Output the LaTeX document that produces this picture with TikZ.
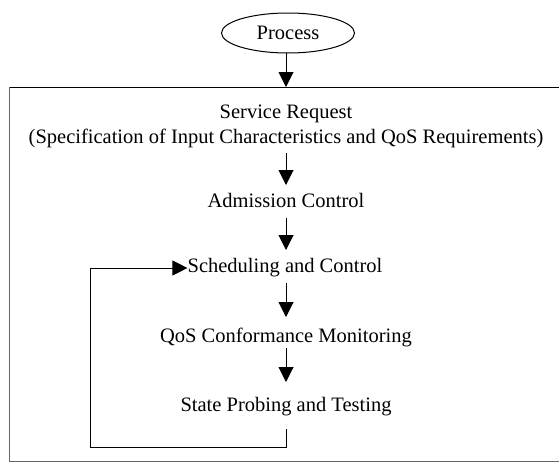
\documentclass[tikz,border=0pt]{standalone}
\usepackage{fontspec}
\setmainfont{Liberation Serif}
\usetikzlibrary{arrows.meta,shapes.geometric}
\begin{document}
\begin{tikzpicture}[x=1pt,y=-1pt,
  every node/.style={font=\fontsize{20.5}{24}\selectfont, inner sep=0pt},
  lbl/.style={anchor=center},
  conn/.style={line width=1pt, -{Triangle[length=15pt,width=15pt]}},
  plain/.style={line width=1pt}]
\useasboundingbox (0,0) rectangle (559,463);
% outer frame (right side runs past the page edge)
\draw[line width=1pt] (9,87) -- (575,87);
\draw[line width=1pt, gray!80!black] (9,87) -- (9,461) -- (575,461);
% start terminal
\node[draw, ellipse, line width=1pt, minimum width=133pt, minimum height=40pt] (proc) at (288,33) {Process};
\coordinate (top) at (286,87);
\draw[conn] (286,53) -- (top);
% process steps
\node[lbl] (req) at (286,114) {Service Request};
\node[lbl] (spec) at (286,138) {(Specification of Input Characteristics and QoS Requirements)};
\node[lbl] (adm) at (286,200) {Admission Control};
\node[lbl] (sch) at (285,268) {Scheduling and Control};
\node[lbl] (qos) at (286,337) {QoS Conformance Monitoring};
\node[lbl] (sp) at (286,407) {State Probing and Testing};
\draw[conn] (286,153) -- (286,185);
\draw[conn] (286,218) -- (286,250);
\draw[conn] (286,283) -- (286,317);
\draw[conn] (286,348) -- (286,382);
% feedback loop
\coordinate (t1) at (286,429);
\coordinate (t2) at (286,447);
\coordinate (t3) at (90,447);
\coordinate (t4) at (90,268);
\draw[conn] (t1) -- (t2) -- (t3) -- (t4) -- (sch.west);
\end{tikzpicture}
\end{document}
